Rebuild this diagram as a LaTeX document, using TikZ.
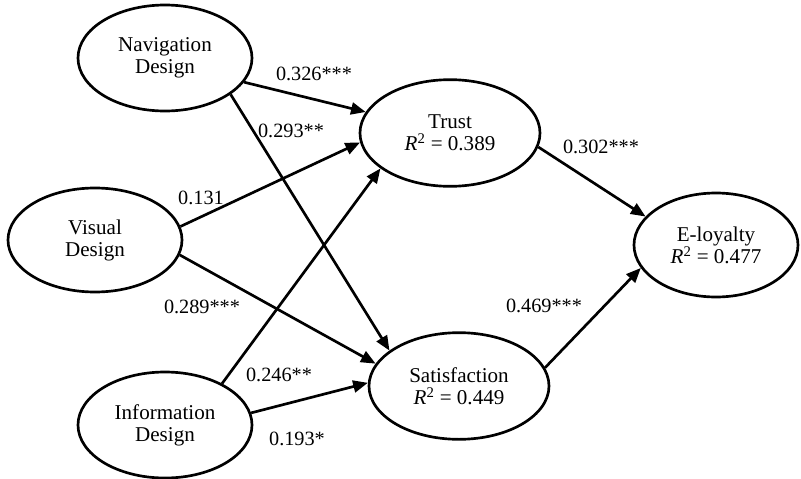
\documentclass[tikz,border=0pt]{standalone}
\usepackage{fontspec}
\setmainfont{Liberation Serif}
\usepackage{tikz}
\usetikzlibrary{shapes.geometric,arrows.meta,positioning}

\begin{document}
\begin{tikzpicture}[x=0.75pt, y=-0.75pt,
    construct/.style={ellipse, draw=black, line width=2pt, inner sep=0pt,
                      minimum width=130.5pt, minimum height=79.5pt, align=center,
                      font=\fontsize{15.8}{16.5}\selectfont},
    outcome/.style={construct, minimum width=135pt, minimum height=80pt},
    path/.style={-{Triangle[length=11pt,width=9pt]}, line width=2pt},
    coef/.style={font=\fontsize{15.2}{17}\selectfont, inner sep=0pt}
]
    \useasboundingbox (0,0) rectangle (801,479);

    % Exogenous constructs
    \node[construct] (nav) at (165,58) {Navigation\\Design};
    \node[construct, minimum height=78pt] (vis) at (95,240) {Visual\\Design};
    \node[construct] (info) at (165,425) {Information\\Design};

    % Endogenous constructs
    \node[outcome] (trust) at (450,133) {Trust\\\textit{R}\textsuperscript{2} = 0.389};
    \node[outcome] (sat) at (459,386) {Satisfaction\\\textit{R}\textsuperscript{2} = 0.449};
    \node[outcome, minimum width=123pt, minimum height=78pt] (eloy) at (716,245) {E-loyalty\\\textit{R}\textsuperscript{2} = 0.477};

    % Paths
    \draw[path] (nav.-17) -- (trust.166);
    \draw[path] (nav.-29) -- (sat.153);
    \draw[path] (vis.9) -- (trust.-174);
    \draw[path] (vis.-10) -- (sat.165);
    \draw[path] (info.36) -- (trust.-153);
    \draw[path] (info.8) -- (sat.178);
    \draw[path] (trust.-9) -- (eloy.158);
    \draw[path] (sat.12) -- (eloy.-163);

    % Path coefficients
    \node[coef] (c1) at (314,74) {0.326***};
    \node[coef] (c2) at (291,131) {0.293**};
    \node[coef] (c3) at (201,198) {0.131};
    \node[coef] (c4) at (202,307) {0.289***};
    \node[coef] (c5) at (279,375) {0.246**};
    \node[coef] (c6) at (297,439) {0.193*};
    \node[coef] (c7) at (601,147) {0.302***};
    \node[coef] (c8) at (544,306) {0.469***};
\end{tikzpicture}
\end{document}
